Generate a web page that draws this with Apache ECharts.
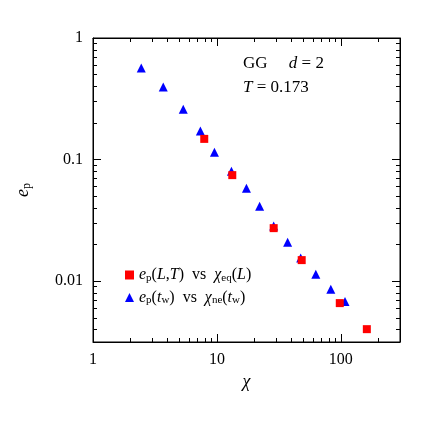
<!DOCTYPE html><html><head><meta charset="utf-8">
<script src="https://cdn.jsdelivr.net/npm/echarts@6/dist/echarts.min.js"></script>
<style>html,body{margin:0;background:#fff}#c{width:436px;height:436px}</style></head><body><div id="c"></div>
<script>
const blueX=[2.45,3.69,5.35,7.35,9.55,13.1,17.3,22.1,28.7,37.2,47.4,62.8,83,108];
const blueY=[0.566,0.395,0.26,0.172,0.115,0.080,0.058,0.0414,0.0284,0.0209,0.0155,0.0114,0.0086,0.0068];
const redX=[7.9,13.3,28.7,48.3,98,162];
const redY=[0.148,0.0745,0.0273,0.0149,0.0066,0.00403];
const xTicks=[1,10,100], yTicks=[0.01,0.1,1];
const F='Liberation Serif';
const ch=echarts.init(document.getElementById('c'));
const ax={type:'log',logBase:10,axisLine:{show:true,onZero:false,lineStyle:{color:'#000',width:1}},
 axisTick:{inside:true,length:8,lineStyle:{color:'#000'}},minorTick:{show:true,splitNumber:9,length:4,lineStyle:{color:'#000'}},
 splitLine:{show:false},axisLabel:{color:'#000',fontFamily:F,fontSize:16}};
ch.setOption({animation:false,
 grid:{left:93,right:36,top:38,bottom:94,show:true,borderColor:'#000',borderWidth:1},
 xAxis:[Object.assign({},ax,{min:1,max:300,name:'χ',nameLocation:'middle',nameGap:26,nameTextStyle:{fontFamily:F,fontStyle:'italic',fontSize:18,color:'#000'},
   axisLabel:Object.assign({},ax.axisLabel,{margin:10,formatter:v=>xTicks.includes(v)?String(v):''})}),
   Object.assign({},ax,{position:'top',min:1,max:300,axisLabel:{show:false}})],
 yAxis:[Object.assign({},ax,{min:0.00316,max:1,name:'{a|e}{b|p}',nameLocation:'middle',nameGap:60,nameRotate:90,
   nameTextStyle:{rich:{a:{fontFamily:F,fontStyle:'italic',fontSize:18,color:'#000'},b:{fontFamily:F,fontSize:12,color:'#000',verticalAlign:'bottom',padding:[8,0,0,0]}}},
   axisLabel:Object.assign({},ax.axisLabel,{margin:10,formatter:v=>{const t=yTicks.find(u=>Math.abs(u-v)/u<1e-6);return t?String(t):'';}})}),
   Object.assign({},ax,{position:'right',min:0.00316,max:1,axisLabel:{show:false}})],
 legend:{orient:'vertical',left:120,top:262,itemGap:6,itemWidth:9,itemHeight:9,
  textStyle:{fontFamily:F,fontSize:16,color:'#000',rich:{i:{fontFamily:F,fontStyle:'italic',fontSize:16},s:{fontFamily:F,fontSize:11,verticalAlign:'bottom',padding:[6,0,0,0]},n:{fontFamily:F,fontSize:16}}},
  formatter:n=>n==='red'?'{i|e}{s|p}{n|(}{i|L},{i|T}{n|)  vs  }{i|χ}{s|eq}{n|(}{i|L}{n|)}':'{i|e}{s|p}{n|(}{i|t}{s|w}{n|)  vs  }{i|χ}{s|ne}{n|(}{i|t}{s|w}{n|)}',
  data:[{name:'red',icon:'rect'},{name:'blue',icon:'triangle'}]},
 series:[
  {name:'blue',type:'scatter',symbol:'triangle',symbolSize:9,itemStyle:{color:'#0000ff',opacity:1},data:blueX.map((x,i)=>[x,blueY[i]])},
  {name:'red',type:'scatter',symbol:'rect',symbolSize:8,itemStyle:{color:'#ff0000',opacity:1},data:redX.map((x,i)=>[x,redY[i]])}],
 graphic:[{type:'text',left:243,top:55,style:{text:'GG     {i|d} = 2',fontFamily:F,fontSize:17,fill:'#000',rich:{i:{fontFamily:F,fontStyle:'italic',fontSize:17}}}},
  {type:'text',left:243,top:79,style:{text:'{i|T} = 0.173',fontFamily:F,fontSize:17,fill:'#000',rich:{i:{fontFamily:F,fontStyle:'italic',fontSize:17}}}}]
});
</script></body></html>
